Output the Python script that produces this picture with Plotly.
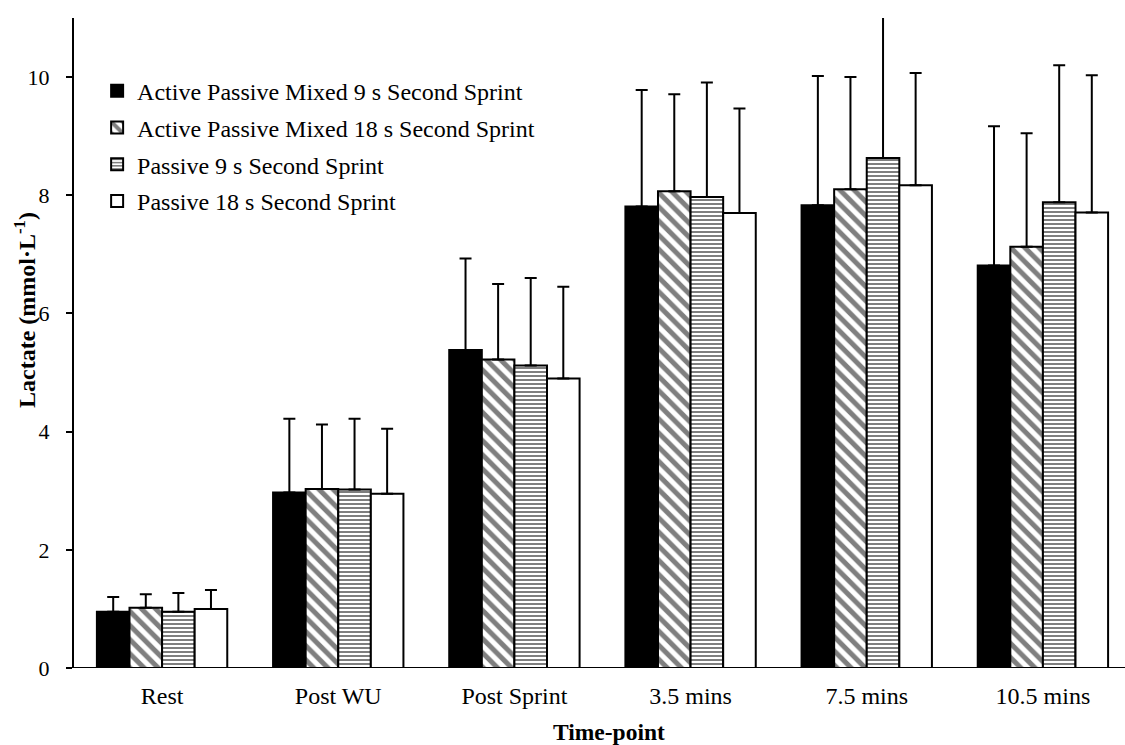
import plotly.graph_objects as go

categories = ["Rest", "Post WU", "Post Sprint", "3.5 mins", "7.5 mins", "10.5 mins"]
series_names = [
    "Active Passive Mixed 9 s Second Sprint",
    "Active Passive Mixed 18 s Second Sprint",
    "Passive 9 s Second Sprint",
    "Passive 18 s Second Sprint",
]
mean_ap9 = [0.95, 2.97, 5.38, 7.81, 7.83, 6.81]
mean_ap18 = [1.02, 3.03, 5.22, 8.07, 8.10, 7.13]
mean_p9 = [0.95, 3.02, 5.12, 7.97, 8.63, 7.88]
mean_p18 = [1.00, 2.95, 4.90, 7.70, 8.17, 7.71]
sd_ap9 = [0.25, 1.25, 1.55, 1.97, 2.19, 2.36]
sd_ap18 = [0.23, 1.09, 1.28, 1.64, 1.90, 1.92]
sd_p9 = [0.32, 1.20, 1.48, 1.94, 2.40, 2.32]
sd_p18 = [0.32, 1.10, 1.55, 1.77, 1.90, 2.32]

means = [mean_ap9, mean_ap18, mean_p9, mean_p18]
sds = [sd_ap9, sd_ap18, sd_p9, sd_p18]

fills = ["black", "white", "white", "white"]
patterns = [
    dict(shape=""),
    dict(shape="\\", fgcolor="black", bgcolor="white", size=10, solidity=0.5, fillmode="overlay"),
    dict(shape="-", fgcolor="black", bgcolor="white", size=4, solidity=0.5, fillmode="overlay"),
    dict(shape=""),
]

fig = go.Figure()
for i in range(4):
    fig.add_trace(go.Bar(
        x=categories, y=means[i], name=series_names[i],
        legendgroup=f"g{i}",
        marker=dict(color=fills[i], line=dict(color="black", width=2), pattern=patterns[i]),
        error_y=dict(type="data", array=sds[i], arrayminus=[0] * len(sds[i]), symmetric=False,
                     color="black", thickness=2, width=6),
    ))

W, H = 1125, 745
ml, mr, mt, mb = 74, 0, 18, 77
pw = W - ml - mr
ph = H - mt - mb
FONT = "Liberation Serif, Times New Roman, serif"
fig.update_layout(
    width=W, height=H,
    margin=dict(l=ml, r=mr, t=mt, b=mb, autoexpand=False),
    paper_bgcolor="white", plot_bgcolor="white",
    font=dict(family=FONT, color="black", size=22),
    barmode="group", bargap=0.26, bargroupgap=0,
    showlegend=True,
    legend=dict(x=0.022, y=0.922, xanchor="left", yanchor="top",
                font=dict(family=FONT, size=24), bgcolor="rgba(0,0,0,0)",
                itemwidth=30, tracegroupgap=2.5, traceorder="grouped"),
    xaxis=dict(range=[-0.5, 5.466], showline=False, ticks="", showgrid=False,
               automargin=False, tickfont=dict(size=24), ticklabelstandoff=11),
    yaxis=dict(range=[0, 11], showline=True, linecolor="black", linewidth=2,
               ticks="outside", ticklen=6, tickwidth=2, tickcolor="black",
               tickvals=[0, 2, 4, 6, 8, 10], showgrid=False, zeroline=False,
               automargin=False, tickfont=dict(size=22), ticklabelstandoff=12),
)
fig.add_annotation(text="<b>Lactate (mmol·L<sup>-1</sup>)</b>", xref="paper", yref="paper",
                   x=(25 - ml) / pw, y=(668 - 310) / ph, xanchor="center", yanchor="middle",
                   textangle=-90, showarrow=False, font=dict(family=FONT, size=24))
fig.add_annotation(text="<b>Time-point</b>", xref="paper", yref="paper",
                   x=(609 - ml) / pw, y=(668 - 732) / ph, xanchor="center", yanchor="middle",
                   showarrow=False, font=dict(family=FONT, size=23.5))
fig.add_shape(type="line", xref="paper", yref="y", x0=-7 / pw, x1=1, y0=0, y1=0,
              line=dict(color="black", width=2), layer="above")

fig.write_html("out.html", config={"displayModeBar": False},
               post_script="document.body.style.margin='0';document.body.style.overflow='hidden';")
